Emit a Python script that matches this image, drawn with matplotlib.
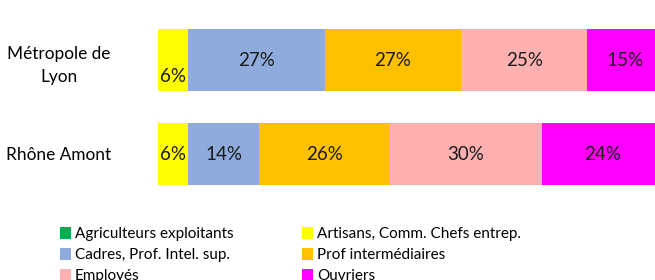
import matplotlib.pyplot as plt
import numpy as np

plt.rcParams['font.family'] = ['Lato', 'DejaVu Sans']

territoires = ["Métropole de\nLyon", "Rhône Amont"]
categories = ["Agriculteurs exploitants", "Artisans, Comm. Chefs entrep.",
              "Cadres, Prof. Intel. sup.", "Prof intermédiaires",
              "Employés", "Ouvriers"]
couleurs = ["#00B050", "#FFFF00", "#8FAADC", "#FFC000", "#FFB1B1", "#FF00FF"]
metropole = [0, 6, 27, 27, 25, 15]
rhone_amont = [0, 6, 14, 26, 30, 24]

data = np.array([metropole, rhone_amont])

fig = plt.figure(figsize=(6.55, 2.8), dpi=100)
ax = fig.add_axes([158/655, 1 - 201/280, 505/655, 188/280])

y = np.arange(len(territoires))
left = np.zeros(len(territoires))
bars = []
for i, cat in enumerate(categories):
    b = ax.barh(y, data[:, i], left=left, height=0.66, color=couleurs[i],
                label=cat, edgecolor="none")
    bars.append(b)
    for j in range(len(territoires)):
        v = data[j, i]
        if v > 0:
            dy = 0.18 if (i == 1 and j == 0) else 0
            ax.text(left[j] + v / 2, y[j] + dy, f"{v}%", ha="center",
                    va="center", fontsize=13.5, color="#1a1a1a")
    left += data[:, i]

ax.set_xlim(0, 100)
ax.set_ylim(1.5, -0.5)
ax.set_yticks(y)
ax.set_yticklabels(territoires, fontsize=12.4, multialignment="center",
                   linespacing=1.6)
ax.tick_params(axis="y", length=0, pad=34)
ax.set_xticks([])
for s in ax.spines.values():
    s.set_visible(False)

order = [0, 2, 4, 1, 3, 5]
handles = [bars[k] for k in order]
labels = [categories[k] for k in order]
fig.legend(handles, labels, ncol=2, loc="upper left",
           bbox_to_anchor=(52/655, 1 - 219/280), frameon=False, fontsize=11,
           handlelength=0.75, handleheight=0.9, handletextpad=0.25,
           columnspacing=4.45, labelspacing=0.42, borderpad=0)

fig.savefig("out.png", dpi=100)
